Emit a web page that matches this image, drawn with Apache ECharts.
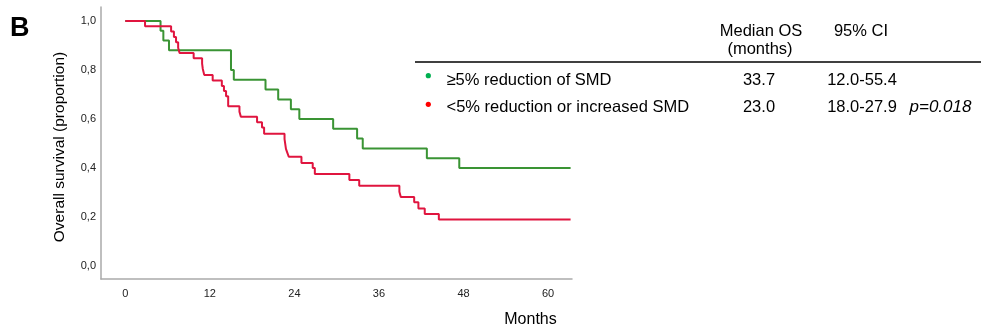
<!DOCTYPE html>
<html>
<head>
<meta charset="utf-8">
<script src="https://cdn.jsdelivr.net/npm/echarts@6/dist/echarts.min.js"></script>
<style>
html,body{margin:0;padding:0;background:#fff;}
#chart{width:981px;height:332px;}
</style>
</head>
<body>
<div id="chart"></div>
<script>
// ---- data ----
var xTicks = [0, 12, 24, 36, 48, 60];
var yTicks = [0, 0.2, 0.4, 0.6, 0.8, 1.0];
var yTickLabels = ['0,0', '0,2', '0,4', '0,6', '0,8', '1,0'];

var greenTimes = [0, 5.0, 5.4, 6.2, 15.0, 15.4, 19.9, 21.7, 23.5, 24.7, 29.5, 32.9, 33.7, 42.8, 47.4, 63.2];
var greenSurv  = [1.0, 0.96, 0.92, 0.88, 0.80, 0.76, 0.72, 0.68, 0.64, 0.60, 0.56, 0.52, 0.48, 0.44, 0.40, 0.40];

var redTimes = [0, 2.8, 6.5, 6.9, 7.2, 7.5, 7.7, 9.7, 10.9, 11.0, 11.2, 12.4, 13.7, 14.0, 14.3, 14.6, 16.2, 16.4, 18.7, 19.4, 19.7, 22.6, 22.8, 23.0, 23.2, 25.0, 26.6, 26.9, 31.8, 33.2, 38.9, 39.1, 41.0, 41.6, 42.5, 44.5, 63.2];
var redSurv  = [1.0, 0.978, 0.957, 0.935, 0.913, 0.891, 0.869, 0.848, 0.826, 0.804, 0.78, 0.757, 0.735, 0.714, 0.693, 0.652, 0.630, 0.609, 0.587, 0.565, 0.540, 0.518, 0.478, 0.462, 0.446, 0.42, 0.40, 0.375, 0.351, 0.328, 0.303, 0.282, 0.26, 0.235, 0.212, 0.19, 0.19];

var groupNames = ['\u22655% reduction of SMD', '<5% reduction or increased SMD'];
var medianOS = ['33.7', '23.0'];
var ciText = ['12.0-55.4', '18.0-27.9'];
var pValue = 'p=0.018';

// ---- chart ----
var lineGreen = '#3a9434';
var lineRed = '#e0153f';
var dotGreen = '#00b050';
var dotRed = '#ff0000';
var font = '"Liberation Sans", Arial, sans-serif';
var tfont = '16.5px ' + font;

function pairs(t, s) { return t.map(function (v, i) { return [v, s[i]]; }); }

var chart = echarts.init(document.getElementById('chart'));
var graphics = [
  { type: 'text', left: 10, top: 15, style: { text: 'B', font: 'bold 27px ' + font, fill: '#000' } },
  { type: 'text', x: 761, y: 31, style: { text: 'Median OS', font: tfont, fill: '#000', align: 'center', verticalAlign: 'middle' } },
  { type: 'text', x: 760, y: 49, style: { text: '(months)', font: tfont, fill: '#000', align: 'center', verticalAlign: 'middle' } },
  { type: 'text', x: 861, y: 31, style: { text: '95% CI', font: tfont, fill: '#000', align: 'center', verticalAlign: 'middle' } },
  { type: 'line', shape: { x1: 415, y1: 62, x2: 981, y2: 62 }, style: { stroke: '#000', lineWidth: 1.5 } }
];
var rowY = [80, 107.5];
var dotY = [75.7, 104.3];
var dotColors = [dotGreen, dotRed];
for (var i = 0; i < 2; i++) {
  graphics.push({ type: 'circle', shape: { cx: 428.3, cy: dotY[i], r: 2.6 }, style: { fill: dotColors[i] } });
  graphics.push({ type: 'text', x: 446.5, y: rowY[i], style: { text: groupNames[i], font: tfont, fill: '#000', align: 'left', verticalAlign: 'middle' } });
  graphics.push({ type: 'text', x: 759, y: rowY[i], style: { text: medianOS[i], font: tfont, fill: '#000', align: 'center', verticalAlign: 'middle' } });
  graphics.push({ type: 'text', x: 862, y: rowY[i], style: { text: ciText[i], font: tfont, fill: '#000', align: 'center', verticalAlign: 'middle' } });
}
graphics.push({ type: 'text', x: 909.5, y: rowY[1], style: { text: pValue, font: 'italic 17px ' + font, fill: '#000', align: 'left', verticalAlign: 'middle' } });

chart.setOption({
  animation: false,
  backgroundColor: '#fff',
  grid: { left: 101, right: 409, top: 7, bottom: 53, containLabel: false, outerBoundsMode: 'none' },
  xAxis: {
    type: 'value', min: -3.45, max: 63.4,
    name: 'Months', nameLocation: 'middle', nameGap: 33,
    nameTextStyle: { fontFamily: font, fontSize: 16, color: '#000', align: 'center', padding: [0, 0, 0, 388] },
    axisLine: { onZero: false, lineStyle: { color: '#aaaaaa', width: 1.5 } },
    axisTick: { show: false },
    splitLine: { show: false },
    axisLabel: { customValues: xTicks, fontFamily: font, fontSize: 11, color: '#222', margin: 9 }
  },
  yAxis: {
    type: 'value', min: -0.053, max: 1.057,
    name: 'Overall survival (proportion)', nameLocation: 'middle', nameGap: 33, nameRotate: 90,
    nameTextStyle: { fontFamily: font, fontSize: 15.5, color: '#000', padding: [0, 8, 0, 0] },
    axisLine: { show: true, onZero: false, lineStyle: { color: '#aaaaaa', width: 1.5 } },
    axisTick: { show: false },
    splitLine: { show: false },
    axisLabel: {
      customValues: yTicks, fontFamily: font, fontSize: 11, color: '#222', margin: 5,
      formatter: function (v) { var idx = yTicks.findIndex(function (t) { return Math.abs(t - v) < 1e-6; }); return idx >= 0 ? yTickLabels[idx] : ''; }
    }
  },
  series: [
    { type: 'line', step: 'end', symbol: 'none', data: pairs(greenTimes, greenSurv), lineStyle: { color: lineGreen, width: 2 }, z: 3 },
    { type: 'line', step: 'end', symbol: 'none', data: pairs(redTimes, redSurv), lineStyle: { color: lineRed, width: 2 }, z: 4 }
  ],
  graphic: graphics
});
</script>
</body>
</html>
